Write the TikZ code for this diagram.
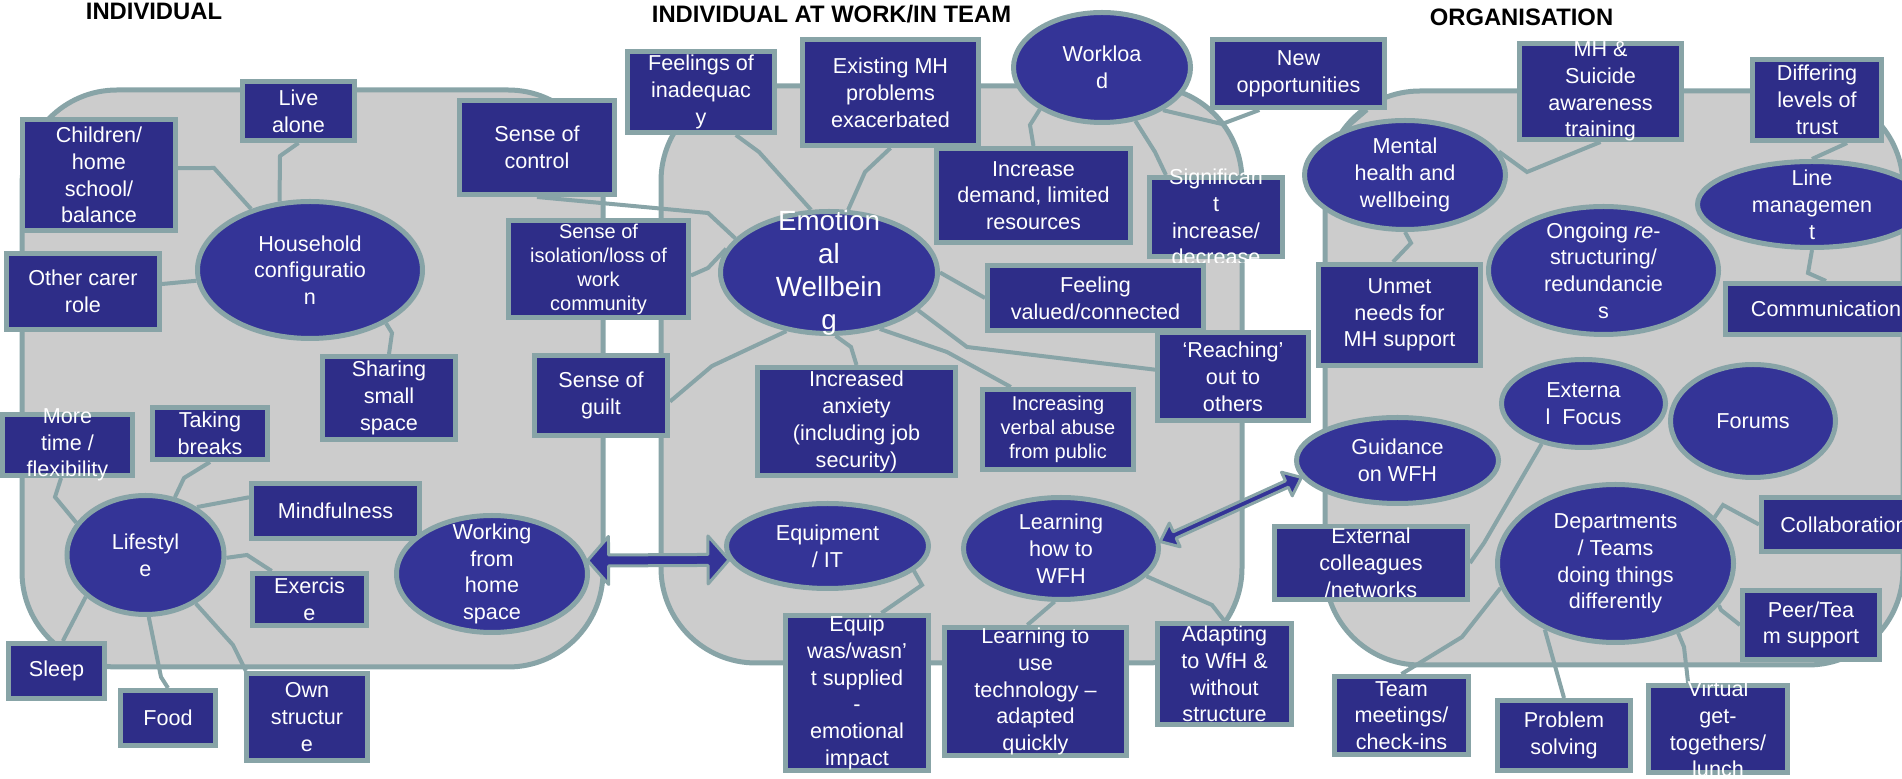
\documentclass[tikz,border=0pt]{standalone}
\usepackage{fontspec}
\setmainfont{Liberation Sans}
\usetikzlibrary{shapes.geometric,calc}
\definecolor{bxfill}{HTML}{2E2D88}
\definecolor{elfill}{HTML}{343497}
\definecolor{edgec}{HTML}{88A4A7}
\definecolor{panelc}{HTML}{CCCCCC}
\pgfdeclarelayer{back}
\pgfdeclarelayer{mid}
\pgfsetlayers{back,mid,main}
\tikzset{
 bxs/.style={rectangle, draw=edgec, fill=bxfill, line width=2.5pt, inner sep=0pt},
 els/.style={ellipse, draw=edgec, fill=elfill, line width=2.5pt, inner sep=0pt},
 txt/.style={text=white, align=center, inner sep=0pt, font=\fontsize{10.8}{13.4}\selectfont},
 smalltxt/.style={font=\fontsize{10}{12}\selectfont},
 bigtxt/.style={font=\fontsize{13.9}{16.5}\selectfont},
 ttl/.style={font=\bfseries\fontsize{11.9}{14}\selectfont, anchor=base, inner sep=0pt},
 con/.style={draw=edgec, line width=2pt},
 panel/.style={draw=edgec, fill=panelc, line width=2.5pt, rounded corners=47.5pt},
 dbl/.style={draw=edgec, fill=elfill, line width=1.5pt, line join=round},
}
\newcommand\bx[7][]{\node[bxs, minimum width=#5*0.5pt, minimum height=#6*0.5pt] (#2) at (#3,#4) {};
 \node[txt,#1] (#2-t) at (#2.center) {#7};}
\newcommand\el[7][]{\node[els, minimum width=#5*0.5pt, minimum height=#6*0.5pt] (#2) at (#3,#4) {};
 \node[txt,#1] (#2-t) at (#2.center) {#7};}
\newcommand\dbarrow[5]{%
 \coordinate (#1-h) at ($(#1)!#4!(#2)$);
 \coordinate (#2-h) at ($(#2)!#4!(#1)$);
 \filldraw[dbl] (#1) -- ($(#1-h)!#5!90:(#2)$) -- ($(#1-h)!#3!90:(#2)$) -- ($(#2-h)!#3!-90:(#1)$) -- ($(#2-h)!#5!-90:(#1)$) -- (#2) -- ($(#2-h)!#5!90:(#1)$) -- ($(#2-h)!#3!90:(#1)$) -- ($(#1-h)!#3!-90:(#2)$) -- ($(#1-h)!#5!-90:(#2)$) -- cycle;}

\begin{document}
\begin{tikzpicture}[x=0.5pt,y=-0.5pt]
\useasboundingbox (0,0) rectangle (1902,779);
\begin{pgfonlayer}{back}
\path[panel] (22,90) rectangle (603,667);
\path[panel] (661,86) rectangle (1242,663);
\path[panel] (1325,91) rectangle (1903,665);
\end{pgfonlayer}

\node[ttl] (t1) at (154,20) {INDIVIDUAL};
\node[ttl] (t2) at (831.5,23) {INDIVIDUAL AT WORK/IN TEAM};
\node[ttl] (t3) at (1521.5,26) {ORGANISATION};

% left panel
\bx{children}{99}{175}{153}{111}{Children/\\home\\school/\\balance}
\bx{live}{298.5}{111}{112}{59}{Live\\alone}
\bx{carer}{83}{291.5}{153}{76}{Other carer\\role}
\el{hh}{310}{270}{225}{137}{Household\\configuratio\\n}
\bx{sharing}{389}{398}{133}{83}{Sharing\\small\\space}
\bx{moretime}{67.5}{445}{130}{61}{More\\time /\\flexibility}
\bx{breaks}{210}{433.5}{115}{52}{Taking\\breaks}
\bx{mindful}{335.5}{511}{168}{55}{Mindfulness}
\el{life}{145.5}{555}{157}{119}{Lifestyl\\e}
\bx{exercise}{309.5}{599.5}{114}{52}{Exercis\\e}
\el{wfh}{492}{574}{191}{117}{Working\\from\\home\\space}
\bx{sleep}{56.5}{671}{96}{55}{Sleep}
\bx{food}{168}{718}{95}{55}{Food}
\bx{own}{307}{717}{121}{87}{Own\\structur\\e}

% middle panel
\bx{sctrl}{537}{147.5}{155}{94}{Sense of\\control}
\bx[smalltxt]{isol}{598.5}{269}{180}{97}{Sense of\\isolation/loss of\\work\\community}
\bx{guilt}{601}{395.5}{133}{80}{Sense of\\guilt}
\bx{inad}{701}{92}{147}{81}{Feelings of\\inadequac\\y}
\bx{exist}{890.5}{92.5}{176}{106}{Existing MH\\problems\\exacerbated}
\el{work}{1102}{67.5}{177}{110}{Workloa\\d}
\bx{newopp}{1298.5}{73.5}{172}{68}{New\\opportunities}
\bx{incdem}{1033.5}{195.5}{194}{94}{Increase\\demand, limited\\resources}
\node[bxs, minimum width=133*0.5pt, minimum height=79*0.5pt] (sig) at (1216,217) {};
\begin{scope}
\clip (1100,150) rectangle (1320,263);
\node[txt] (sig-t) at (sig.center) {Significan\\t\\increase/\\decrease};
\end{scope}
\el[bigtxt]{emo}{829}{272.5}{217}{122}{Emotion\\al\\Wellbein\\g}
\bx{fval}{1095.5}{298}{216}{65}{Feeling\\valued/connected}
\bx{reach}{1233}{376.5}{151}{88}{‘Reaching’\\out to\\others}
\bx{anx}{856.5}{421.5}{198}{108}{Increased\\anxiety\\(including job\\security)}
\bx[smalltxt]{verbal}{1058}{429.5}{151}{80}{Increasing\\verbal abuse\\from public}
\el{equip}{827.5}{546}{202}{85}{Equipment\\/ IT}
\el{lwfh}{1061}{548.5}{195}{102}{Learning\\how to\\WFH}
\bx{eqw}{857}{693}{143}{155}{Equip\\was/wasn’\\t supplied\\-\\emotional\\impact}
\bx{tech}{1035.5}{691.5}{182}{128}{Learning to\\use\\technology –\\adapted\\quickly}
\bx{adapt}{1224.5}{674}{134}{101}{Adapting\\to WfH \&\\without\\structure}

% right panel
\el{mh}{1405}{175}{201}{109}{Mental\\health and\\wellbeing}
\bx{mhs}{1600.5}{91.5}{162}{96}{MH \&\\Suicide\\awareness\\training}
\bx{diff}{1817}{100}{129}{81}{Differing\\levels of\\trust}
\el{ongo}{1603.5}{270.5}{230}{128}{Ongoing \textit{re}-\\structuring/\\redundancie\\s}
\el{linem}{1812}{204.5}{229}{86}{Line\\managemen\\t}
\bx{unmet}{1399.5}{315}{162}{101}{Unmet\\needs for\\MH support}
\bx{comm}{1826}{309}{201}{51}{Communication}
\el{ef}{1583.5}{403.5}{164}{88}{Externa\\l~~Focus}
\el{forums}{1753}{421}{165}{113}{Forums}
\el{guid}{1397.5}{460.5}{202}{86}{Guidance\\on WFH}
\bx{extc}{1371}{563}{193}{73}{External\\colleagues\\/networks}
\bx{collab}{1844}{524.5}{165}{54}{Collaboration}
\el{dept}{1615.5}{563.5}{236}{158}{Departments\\/ Teams\\doing things\\differently}
\bx{peer}{1811}{625}{137}{69}{Peer/Tea\\m support}
\bx{team}{1401.5}{715.5}{134}{78}{Team\\meetings/\\check-ins}
\bx{prob}{1564}{735.5}{133}{70}{Problem\\solving}
\node[bxs, minimum width=139*0.5pt, minimum height=87*0.5pt] (virt) at (1718,729) {};
\begin{scope}
\clip (1600,640) rectangle (1800,775);
\node[txt] (virt-t) at (virt.center) {Virtual\\get-\\togethers/\\lunch};
\end{scope}

% connectors
\begin{pgfonlayer}{mid}
\draw[con] (children.5) -- (214,168) -- (hh.134);
\draw[con] (live.south) -- (280,156) -- (hh.114);
\draw[con] (carer) -- (hh);
\draw[con] (hh.-35) -- (392,333) -- (sharing.north);
\draw[con] (moretime.259) -- (55,497) -- (life.155);
\draw[con] (breaks.south) -- (184,478) -- (life.63);
\draw[con] (mindful.171) -- (life.43);
\draw[con] (exercise.143) -- (247,555) -- (life.-2);
\draw[con] (life.215) -- (sleep.78);
\draw[con] (life.-87) -- (161,677) -- (food.north);
\draw[con] (life.-44) -- (233,645) -- (own.143);
\draw[con] (sctrl.south) -- (708,213) -- (emo.160);
\draw[con] (isol.-4) -- (708,268) -- (emo.167);
\draw[con] (inad.-51) -- (759,152) -- (emo.106);
\draw[con] (exist.south) -- (865,172) -- (emo.73);
\draw[con] (work.214) -- (1030,125) -- (incdem.north);
\draw[con] (work.-58) -- (1155,152) -- (sig.140);
\draw[con] (work.-35) -- (1222,124) -- (newopp.223);
\draw[con] (emo.east) -- (fval.west);
\draw[con] (emo.-23) -- (967,347) -- (reach.175);
\draw[con] (emo.-48) -- (947,352) -- (verbal.138);
\draw[con] (emo.-84) -- (851,347) -- (anx.north);
\draw[con] (emo.234) -- (712,366) -- (guilt.-5);
\draw[con] (equip.-16) -- (922,585) -- (eqw.73);
\draw[con] (lwfh.-100) -- (1053,603) -- (tech.97);
\draw[con] (lwfh.-18) -- (1212,605) -- (adapt.north);
\draw[con] (mh.142) -- (newopp.-28);
\draw[con] (mh.14) -- (1527,172) -- (mhs.south);
\draw[con] (mh.south) -- (1411,243) -- (unmet.97);
\draw[con] (diff.-55) -- (linem.north);
\draw[con] (linem.south) -- (1808,273) -- (comm.north);
\draw[con] (ef.224) -- (1484,543) -- (extc.east);
\draw[con] (collab.west) -- (1723,505) -- (dept.25);
\draw[con] (dept.-22) -- (1721,610) -- (peer.west);
\draw[con] (dept.192) -- (1462,637) -- (team.north);
\draw[con] (dept.223) -- (prob.north);
\draw[con] (dept.-48) -- (1684,647) -- (virt.123);
\end{pgfonlayer}

% double arrows
\coordinate (a1s) at (wfh.8);
\coordinate (a1e) at (equip.188);
\dbarrow{a1s}{a1e}{2.75pt}{10.5pt}{12pt}
\coordinate (a2s) at (lwfh.4);
\coordinate (a2e) at (guid.190);
\dbarrow{a2s}{a2e}{1.75pt}{8pt}{6.5pt}
\end{tikzpicture}
\end{document}
